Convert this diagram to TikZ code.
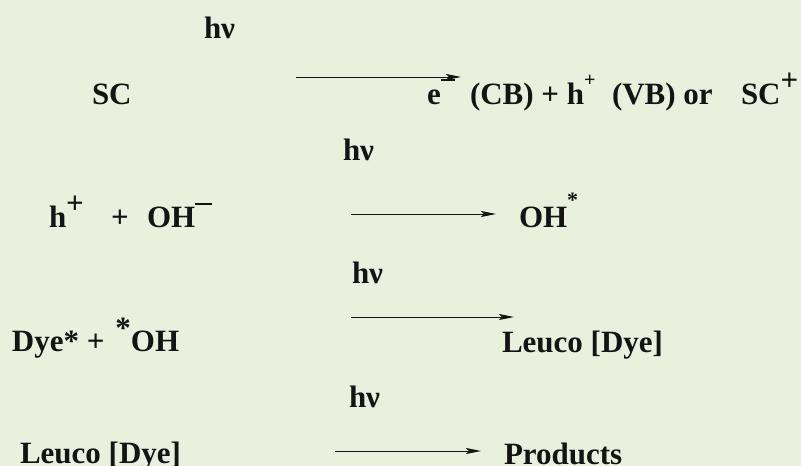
\documentclass[tikz,border=0pt]{standalone}
\usepackage{fontspec}
\setmainfont{Liberation Serif}
\usetikzlibrary{arrows.meta}
\definecolor{bg}{RGB}{233,241,222}
\definecolor{ink}{RGB}{20,20,20}
\newcommand{\bigsup}[1]{\raisebox{0.42em}{#1}}
\newcommand{\smallsup}[1]{\raisebox{0.55em}{\fontsize{20}{22}\selectfont #1}}
\begin{document}
\begin{tikzpicture}[x=1pt,y=-1pt,
  lbl/.style={anchor=base west,inner sep=0pt,outer sep=0pt,text=ink,font=\fontsize{31}{36}\selectfont\bfseries},
  rxn/.style={draw=ink,line width=1pt,-{Stealth[length=15pt,width=6pt,inset=3pt]}}]
\fill[bg] (0,0) rectangle (801,466);
\useasboundingbox (0,0) rectangle (801,466);
% reaction 1
\node[lbl] (hv1) at (204,38) {hν};
\node[lbl] (sc) at (92,104) {SC};
\node[lbl] (p1a) at (427,104) {e\rule[23pt]{14pt}{2.2pt}};
\node[lbl] (p1b) at (470,104) {(CB) + h\smallsup{+}};
\node[lbl] (p1c) at (612,104) {(VB) or};
\node[lbl] (p1d) at (741,104) {SC\bigsup{+}};
\coordinate (a1s) at (296,77);
\coordinate (a1e) at (461,77);
\draw[rxn] (a1s) -- (a1e);
% reaction 2
\node[lbl] (hv2) at (343,160) {hν};
\node[lbl] (r2a) at (49,227) {h\bigsup{+}};
\node[lbl] (r2b) at (111,227) {+};
\node[lbl] (r2c) at (147,227) {OH\rule[22pt]{17pt}{2.4pt}};
\node[lbl] (p2) at (519,227) {OH\raisebox{0.62em}{\fontsize{22}{22}\selectfont *}};
\coordinate (a2s) at (351,214);
\coordinate (a2e) at (496,214);
\draw[rxn] (a2s) -- (a2e);
% reaction 3
\node[lbl] (hv3) at (352,283) {hν};
\node[lbl] (r3) at (12,351) {Dye* +\hspace{0.35em}\raisebox{0.4em}{*}OH};
\node[lbl] (p3) at (502,352) {Leuco [Dye]};
\coordinate (a3s) at (351,317);
\coordinate (a3e) at (514,317);
\draw[rxn] (a3s) -- (a3e);
% reaction 4
\node[lbl] (hv4) at (349,407) {hν};
\node[lbl] (r4) at (20,463) {Leuco [Dye]};
\node[lbl] (p4) at (504,464) {Products};
\coordinate (a4s) at (335,451);
\coordinate (a4e) at (481,451);
\draw[rxn] (a4s) -- (a4e);
\end{tikzpicture}
\end{document}
